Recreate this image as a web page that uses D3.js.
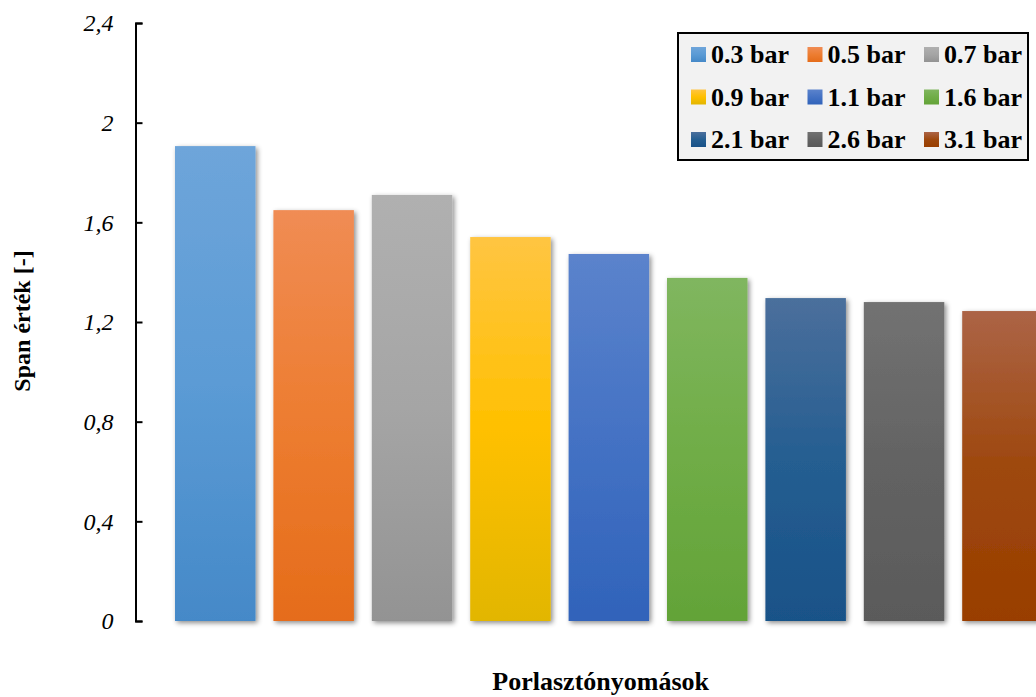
<!DOCTYPE html>
<html>
<head>
<meta charset="utf-8">
<script src="https://cdn.jsdelivr.net/npm/d3@7"></script>
<style>
  html, body { margin: 0; padding: 0; background: #fff; }
  svg { display: block; }
</style>
</head>
<body>
<svg id="chart" width="1036" height="697"></svg>
<script>
// Spray pressures (series) and their span values
const pressures = ["0.3 bar", "0.5 bar", "0.7 bar", "0.9 bar", "1.1 bar", "1.6 bar", "2.1 bar", "2.6 bar", "3.1 bar"];
const spanValues = [1.906, 1.649, 1.710, 1.541, 1.473, 1.377, 1.296, 1.280, 1.244];
const yTicks = [0, 0.4, 0.8, 1.2, 1.6, 2.0, 2.4];
const yTickLabels = ["0", "0,4", "0,8", "1,2", "1,6", "2", "2,4"];

// Gradient colours per series: top, middle, bottom
const colorTop = ["#6EA5DA", "#F08C54", "#B0B0B0", "#FFC542", "#5B83CC", "#80B65F", "#4B6F9C", "#727272", "#AC6446"];
const colorMid = ["#5B9BD5", "#ED7D31", "#A5A5A5", "#FFC000", "#4472C4", "#70AD47", "#255E91", "#636363", "#9E480E"];
const colorBot = ["#4589C8", "#E56C1A", "#939393", "#E2B600", "#3063BA", "#63A338", "#195288", "#5A5A5A", "#993E00"];

const svg = d3.select("#chart");
const defs = svg.append("defs");

pressures.forEach((p, i) => {
  const g = defs.append("linearGradient")
    .attr("id", "grad" + i)
    .attr("x1", 0).attr("y1", 0).attr("x2", 0).attr("y2", 1);
  g.append("stop").attr("offset", "0%").attr("stop-color", colorTop[i]);
  g.append("stop").attr("offset", "50%").attr("stop-color", colorMid[i]);
  g.append("stop").attr("offset", "100%").attr("stop-color", colorBot[i]);
});

const shadow = defs.append("filter").attr("id", "shadow")
  .attr("x", "-20%").attr("y", "-20%").attr("width", "140%").attr("height", "140%");
shadow.append("feDropShadow")
  .attr("dx", 2).attr("dy", 2).attr("stdDeviation", 2.5)
  .attr("flood-color", "#000").attr("flood-opacity", 0.45);

// Scales
const y = d3.scaleLinear().domain([0, 2.4]).range([621, 23]);
const x = d3.scaleBand().domain(pressures).range([175, 1042.7])
  .paddingInner(0.182).paddingOuter(0);

// Bars
svg.append("g").selectAll("rect")
  .data(spanValues)
  .join("rect")
  .attr("x", (d, i) => x(pressures[i]))
  .attr("y", d => y(d))
  .attr("width", x.bandwidth())
  .attr("height", d => y(0) - y(d))
  .attr("fill", (d, i) => `url(#grad${i})`)
  .attr("filter", "url(#shadow)");

// Y axis with inward ticks
const yAxis = d3.axisLeft(y)
  .tickValues(yTicks)
  .tickSize(-7)
  .tickSizeOuter(-7)
  .tickPadding(22)
  .tickFormat((d, i) => yTickLabels[i]);

const axisG = svg.append("g")
  .attr("transform", "translate(135.5,0)")
  .call(yAxis);
axisG.select(".domain").attr("stroke", "#000").attr("stroke-width", 2);
axisG.selectAll(".tick line").attr("stroke", "#000").attr("stroke-width", 2);
axisG.selectAll(".tick text")
  .attr("fill", "#000")
  .attr("font-family", "'Liberation Serif', 'Times New Roman', serif")
  .attr("font-style", "italic")
  .attr("font-size", 24);

// Axis titles
svg.append("text")
  .attr("transform", "translate(30,321) rotate(-90)")
  .attr("text-anchor", "middle")
  .attr("font-family", "'Liberation Serif', 'Times New Roman', serif")
  .attr("font-weight", "bold")
  .attr("font-size", 24)
  .text("Span érték [-]");

svg.append("text")
  .attr("x", 600.7).attr("y", 690)
  .attr("text-anchor", "middle")
  .attr("font-family", "'Liberation Serif', 'Times New Roman', serif")
  .attr("font-weight", "bold")
  .attr("font-size", 26)
  .text("Porlasztónyomások");

// Legend
const legend = svg.append("g");
legend.append("rect")
  .attr("x", 678).attr("y", 33).attr("width", 350).attr("height", 127)
  .attr("fill", "#F2F2F2").attr("stroke", "#000").attr("stroke-width", 2);

const items = legend.selectAll("g.item")
  .data(pressures)
  .join("g")
  .attr("class", "item")
  .attr("transform", (d, i) => `translate(${691 + (i % 3) * 116.5},${47 + Math.floor(i / 3) * 42.5})`);

items.append("rect")
  .attr("width", 15).attr("height", 15)
  .attr("fill", (d, i) => `url(#grad${i})`);

items.append("text")
  .attr("x", 20).attr("y", 16)
  .attr("font-family", "'Liberation Serif', 'Times New Roman', serif")
  .attr("font-weight", "bold")
  .attr("font-size", 26)
  .text(d => d);
</script>
</body>
</html>
